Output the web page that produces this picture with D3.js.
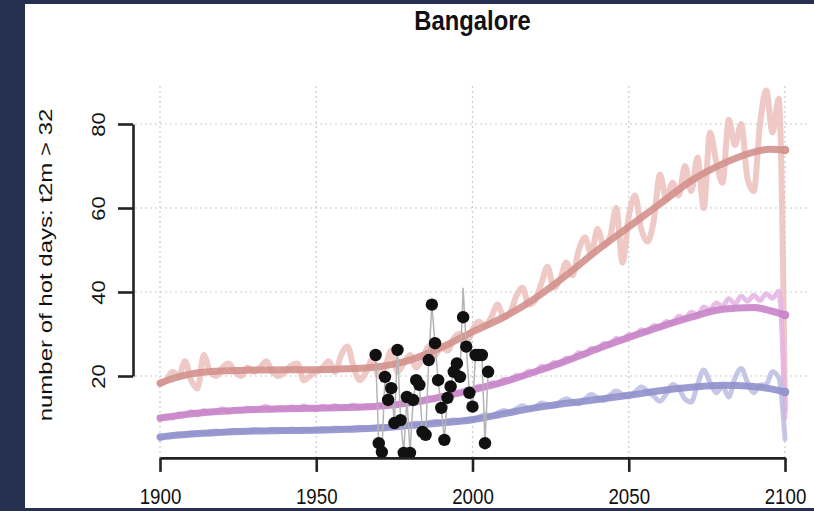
<!DOCTYPE html>
<html>
<head>
<meta charset="utf-8">
<script src="https://cdn.jsdelivr.net/npm/d3@7"></script>
<style>
  html, body { margin: 0; padding: 0; background: #252f4f; }
  svg { display: block; }
  text { font-family: "Liberation Sans", Arial, sans-serif; fill: #111; }
</style>
</head>
<body>
<svg id="chart" width="814" height="511"></svg>
<script>
// ---- data ----------------------------------------------------------------
const title = "Bangalore";
const yTitle = "number of hot days: t2m >  32";
const xTicks = [1900, 1950, 2000, 2050, 2100];
const yTicks = [20, 40, 60, 80];

// annual model series, sampled every second year 1900..2100
const rawYears = d3.range(1900, 2101, 2);
const pinkRaw = [18,19,21,20,23.5,19,17,25,21,20,22,23,21,20,22,21,22,23.5,21,20,
  21,22.5,23,19,20,21,22,23.5,21,25,27,22,19,21,24,20,22,26,21,23,
  25,22,24,27,25,
  27,26,29,30,28,31,33,32,34,37,34,35,39,41,37,38,42,46,41,43,
  47,44,50,53,49,55,51,53,60,47,58,63,55,52,57,68,
  62,66,63,70,64,72,60,78,71,66,81,75,80,67,64,80,88,78,86,12];
const purpleRaw = [9.5,10.5,10,11,10.8,11.5,10.7,11.8,11.2,11.6,12.2,11.4,12,11.6,12.4,11.8,12.3,12.8,11.9,12.5,
  12.1,12.7,12.2,12.9,12.3,12.1,12.8,12.4,13,12.3,12.7,13.1,12.4,12.9,12.6,13.2,12.8,13.5,13.1,13.9,
  13.4,14.3,14,14.8,14.5,15.4,15.1,16,15.8,16.8,16.5,17.6,17.2,18.4,18,19.2,18.8,20.2,19.8,21.2,
  20.8,22.3,21.8,23.2,22.8,24.3,24,25.6,25,26.6,26.2,27.8,27.3,29,28.4,29.8,29.5,31,30.4,32,
  31.6,33,32.6,34.2,33.8,35.2,34.6,36.4,35.8,37.4,36.6,38.4,37.2,39,37.8,39.2,38,39.6,38.5,40.2,10];
const blueRaw = [5,5.6,5.8,6.2,6,6.4,6.5,6.3,6.7,6.9,6.6,6.8,7.1,6.9,6.8,7.2,7.1,7,7.3,7.2,
  7.1,7.4,7.2,7.3,7.1,7.4,7.5,7.3,7.6,7.5,7.4,7.7,7.8,7.6,7.7,8,7.9,8.2,8.4,8.2,
  8.5,8.8,8.6,8.9,9.2,9,9.3,9.6,9.4,9.7,
  9.8,10.2,10.8,10.5,11.2,11.8,11.4,12.2,12.9,12.4,12.6,13.6,13.2,12.8,13.8,14.6,13.9,13.4,14.5,15.6,
  14.8,14.2,15.4,16.4,15.6,15,16.2,17.4,16.4,15.2,14,15.8,18,17,14.5,13.8,18,21.4,18.5,16,
  17.5,15,19.5,21.8,18.5,16,17.8,18,21,19.6,5];

// smoothed trends
const smoothYears = [1900,1905,1910,1920,1930,1940,1950,1960,1970,1980,1990,2000,2010,2020,2030,2040,2050,2060,2070,2080,2090,2095,2100];
const pinkSmooth   = [18.3,19.6,20.5,21.2,21.4,21.5,21.5,21.7,22.2,23.8,26.8,30.5,34,38.5,44,50,55.5,61,66.5,70.5,73.3,74,73.8];
const purpleSmooth = [10,10.5,11,11.6,12,12.2,12.3,12.5,12.8,13.6,15,16.7,18.6,21,23.6,26.5,29.2,31.7,34,35.9,36.3,35.6,34.5];
const blueSmooth   = [5.5,5.9,6.2,6.6,6.9,7.0,7.1,7.3,7.6,8.2,8.8,9.6,11,12.4,13.5,14.4,15.4,16.5,17.3,17.8,17.5,17,16.2];

// station observations 1969..2005
const obsYears = d3.range(1969, 2006);
const obsValues = [25,4,1.9,19.8,14.3,17.1,8.8,26.2,9.5,1.7,15,1.7,14.3,19,17.9,6.7,6,
  23.8,37,27.8,19,12.4,4.8,14.8,17.5,21,23,19.8,34,27,16,12.7,25,25,25,4,21];
const obsLine = [25,4,1.9,19.8,14.3,17.1,8.8,26.2,9.5,1.7,15,1.7,14.3,19,17.9,6.7,6,
  23.8,37,27.8,19,12.4,4.8,14.8,17.5,21,23,19.8,41,27,16,12.7,25,25,25,4,21];

// ---- layout --------------------------------------------------------------
const svg = d3.select("#chart");
const W = 814, H = 511;
const panel = { x: 25, y: 4, w: W - 25, h: 504 };
const SX = 0.85; // horizontal squeeze of the lettering

svg.append("rect").attr("width", W).attr("height", H).attr("fill", "#252f4f");
svg.append("rect").attr("x", panel.x).attr("y", panel.y)
  .attr("width", panel.w).attr("height", panel.h).attr("fill", "#ffffff");

const x = d3.scaleLinear().domain([1892, 2108]).range([135, 810]);
const y = d3.scaleLinear().domain([0, 80]).range([460, 124]);
const yBottom = 0.5, yTop = 89.5;

const root = svg.append("g");
svg.append("clipPath").attr("id", "pan")
  .append("rect").attr("x", panel.x).attr("y", panel.y).attr("width", panel.w).attr("height", panel.h);
root.attr("clip-path", "url(#pan)");

// grid
const grid = root.append("g").attr("stroke", "#cbcbcb").attr("stroke-width", 1.2)
  .attr("stroke-dasharray", "2,3");
grid.selectAll("line.v").data(xTicks).join("line").attr("class", "v")
  .attr("x1", d => x(d)).attr("x2", d => x(d))
  .attr("y1", y(yBottom)).attr("y2", y(yTop));
grid.selectAll("line.h").data(yTicks).join("line").attr("class", "h")
  .attr("x1", x(1892)).attr("x2", x(2108))
  .attr("y1", d => y(d)).attr("y2", d => y(d));

// series
const rawLine = d3.line().x(d => x(d[0])).y(d => y(d[1])).curve(d3.curveMonotoneX);
const smLine = d3.line().x(d => x(d[0])).y(d => y(d[1])).curve(d3.curveMonotoneX);
const series = [
  { raw: pinkRaw,   sm: pinkSmooth,   cRaw: "#ecbfbc", cSm: "#d3918d", wRaw: 6 },
  { raw: purpleRaw, sm: purpleSmooth, cRaw: "#e4b2e4", cSm: "#c884c8", wRaw: 5 },
  { raw: blueRaw,   sm: blueSmooth,   cRaw: "#bcbce2", cSm: "#9090cc", wRaw: 5 }
];
series.forEach(s => {
  root.append("path").datum(d3.zip(rawYears, s.raw)).attr("d", rawLine)
    .attr("fill", "none").attr("stroke", s.cRaw).attr("stroke-width", s.wRaw)
    .attr("stroke-linejoin", "round").attr("stroke-linecap", "round").attr("opacity", 0.85);
  root.append("path").datum(d3.zip(smoothYears, s.sm)).attr("d", smLine)
    .attr("fill", "none").attr("stroke", s.cSm).attr("stroke-width", 7)
    .attr("stroke-linejoin", "round").attr("stroke-linecap", "round").attr("opacity", 0.9);
  const last = s.sm.length - 1;
  root.append("circle").attr("cx", x(smoothYears[last])).attr("cy", y(s.sm[last]))
    .attr("r", 3.5).attr("fill", "none").attr("stroke", s.cSm).attr("stroke-width", 1.5);
});

// observations
root.append("path").datum(d3.zip(obsYears, obsLine))
  .attr("d", d3.line().x(d => x(d[0])).y(d => y(d[1])))
  .attr("fill", "none").attr("stroke", "#b4b4b4").attr("stroke-width", 1.5);
root.selectAll("circle.obs").data(d3.zip(obsYears, obsValues)).join("circle")
  .attr("class", "obs")
  .attr("cx", d => x(d[0])).attr("cy", d => y(d[1])).attr("r", 6.2)
  .attr("fill", "#111");

// axes
const xAxisScale = x.copy().domain([1900, 2100]).range([x(1900), x(2100)]);
const xAxis = root.append("g").attr("transform", `translate(0,${y(yBottom)})`)
  .call(d3.axisBottom(xAxisScale).tickValues(xTicks).tickSize(14).tickSizeOuter(0).tickFormat(d3.format("d")));
const yAxisScale = y.copy().domain([20, 80]).range([y(20), y(80)]);
const yAxis = root.append("g").attr("transform", `translate(133,0)`)
  .call(d3.axisLeft(yAxisScale).tickValues(yTicks).tickSize(15).tickSizeOuter(0));
[xAxis, yAxis].forEach(a => {
  a.select(".domain").attr("stroke", "#222").attr("stroke-width", 2.6);
  a.selectAll(".tick line").attr("stroke", "#222").attr("stroke-width", 2.6);
});
xAxis.selectAll(".tick text")
  .attr("y", null).attr("dy", null)
  .attr("transform", `translate(0,46) scale(${SX},1)`)
  .attr("font-size", 22).attr("fill", "#111").attr("font-family", "Liberation Sans, Arial, sans-serif");
yAxis.selectAll(".tick text")
  .attr("x", null).attr("dy", null)
  .attr("text-anchor", "middle")
  .attr("transform", `translate(-28,0) scale(${SX},1) rotate(-90)`)
  .attr("font-size", 22).attr("fill", "#111").attr("font-family", "Liberation Sans, Arial, sans-serif");

// titles
root.append("text")
  .attr("transform", `translate(${x(2000)},30) scale(${SX},1)`)
  .attr("text-anchor", "middle").attr("font-size", 28).attr("font-weight", "bold")
  .text(title);
root.append("text")
  .attr("transform", `translate(52,265) scale(0.8,1) rotate(-90)`)
  .attr("text-anchor", "middle").attr("font-size", 24)
  .text(yTitle);
</script>
</body>
</html>
